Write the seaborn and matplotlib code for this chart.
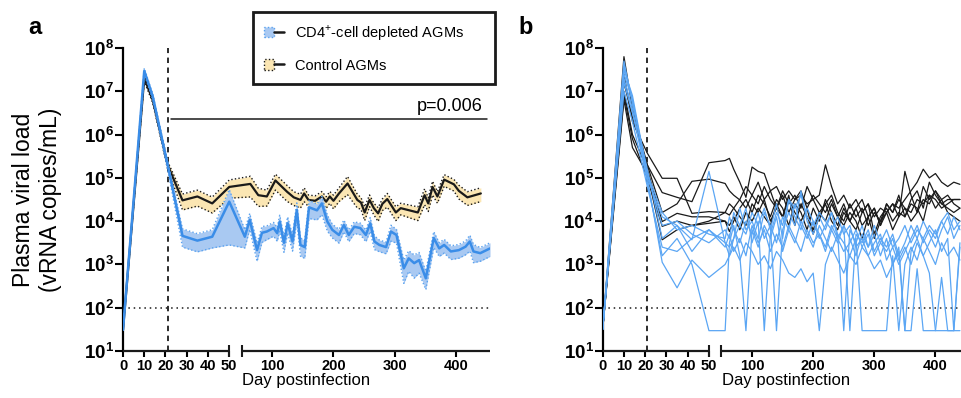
import numpy as np
import pandas as pd
import matplotlib
matplotlib.use("Agg")
import matplotlib.pyplot as plt
import seaborn as sns
from matplotlib.patches import Patch
from matplotlib.lines import Line2D
from matplotlib.legend_handler import HandlerTuple

sns.set_theme(style="ticks")
plt.rcParams["font.family"] = ["Liberation Sans", "DejaVu Sans"]
plt.rcParams["mathtext.fontset"] = "custom"
plt.rcParams["mathtext.rm"] = "Liberation Sans"
plt.rcParams["mathtext.bf"] = "Liberation Sans:bold"
for k in ["text.color", "axes.labelcolor", "xtick.color", "ytick.color", "axes.edgecolor"]:
    plt.rcParams[k] = "black"

# ---------------- data (log10 vRNA copies/mL) ----------------
# Panel a: group means with relative SEM
ctrl_days = [0, 10, 14, 21, 28, 35, 42, 50, 64, 77, 91, 105, 124, 135, 146, 152,
             159, 170, 181, 188, 194, 200, 209, 223, 239, 245, 251, 259, 266, 273,
             280, 288, 302, 310, 338, 349, 355, 362, 370, 381, 397, 405, 419, 441]
ctrl_log = [1.49, 7.30, 6.80, 5.30, 4.48, 4.57, 4.41, 4.79, 4.86, 4.60, 4.57, 4.94,
            4.68, 4.55, 4.49, 4.64, 4.49, 4.47, 4.57, 4.45, 4.57, 4.47, 4.64, 4.87,
            4.49, 4.43, 4.20, 4.49, 4.30, 4.18, 4.40, 4.51, 4.20, 4.30, 4.20, 4.60,
            4.41, 4.79, 4.57, 4.96, 4.85, 4.70, 4.55, 4.64]
ctrl_rsem = [0.05, 0.15, 0.15, 0.2, 0.4, 0.4, 0.4, 0.45, 0.5, 0.45, 0.4, 0.4,
             0.4, 0.35, 0.35, 0.35, 0.3, 0.3, 0.3, 0.3, 0.3, 0.35, 0.35, 0.45,
             0.35, 0.3, 0.35, 0.3, 0.3, 0.35, 0.3, 0.35, 0.35, 0.3, 0.35, 0.4,
             0.35, 0.35, 0.3, 0.3, 0.3, 0.35, 0.35, 0.35]

dep_days = [0, 10, 14, 21, 28, 35, 42, 50, 55, 63, 75, 83, 91, 102, 108, 112,
            119, 125, 133, 140, 146, 153, 160, 173, 181, 190, 198, 209, 217, 225,
            234, 244, 253, 260, 267, 275, 286, 294, 303, 315, 323, 332, 340, 351,
            364, 373, 381, 392, 405, 416, 423, 429, 440, 456]
dep_log = [1.49, 7.47, 6.88, 5.30, 3.66, 3.55, 3.64, 4.45, 3.64, 4.03, 3.33, 3.73,
           3.76, 3.84, 3.72, 3.99, 3.50, 3.95, 3.53, 4.26, 3.45, 3.40, 4.32, 4.25,
           4.41, 3.99, 3.80, 3.68, 3.91, 3.68, 3.87, 3.84, 3.68, 3.95, 3.53, 3.45,
           3.40, 3.76, 3.68, 2.91, 3.14, 3.03, 3.10, 2.68, 3.61, 3.37, 3.45, 3.30,
           3.33, 3.41, 3.53, 3.30, 3.26, 3.37]
dep_rsem = [0.05, 0.15, 0.15, 0.2, 0.45, 0.45, 0.45, 0.9, 0.45, 0.4, 0.45, 0.4,
            0.35, 0.35, 0.35, 0.4, 0.4, 0.4, 0.4, 0.45, 0.45, 0.45, 0.45, 0.4,
            0.45, 0.4, 0.35, 0.35, 0.3, 0.3, 0.3, 0.3, 0.3, 0.35, 0.35, 0.3,
            0.3, 0.4, 0.35, 0.55, 0.5, 0.55, 0.5, 0.45, 0.4, 0.35, 0.35, 0.35,
            0.35, 0.35, 0.4, 0.45, 0.35, 0.35]

# Panel b: individual animals
days_b = [0, 10, 14, 21, 28, 35, 42, 50, 56, 63, 70, 80, 90, 100, 110, 120, 130,
          140, 150, 160, 170, 180, 190, 200, 210, 220, 230, 240, 250, 260, 270,
          280, 290, 300, 310, 320, 330, 340, 350, 360, 370, 380, 390, 400, 410,
          420, 430, 440]
ctrl_animals = {
    "C1": [1.5, 7.8, 6.6, 5.3, 4.66, 4.55, 4.45, 5.35, 5.4, 5.45, 5.2, 4.9,
           4.55, 5.25, 5.15, 5.1, 4.7, 4.8, 4.5, 4.7, 4.5, 4.6, 4.4, 4.5,
           4.6, 5.3, 4.8, 4.4, 4.6, 4.3, 4.5, 4.2, 4.4, 4.1, 4.3, 4.2,
           4.4, 4.3, 4.5, 4.7, 4.9, 5.2, 5.0, 5.1, 4.9, 4.8, 4.9, 4.85],
    "C2": [1.5, 7.4, 6.3, 5.57, 4.99, 4.99, 4.18, 4.22, 4.2, 4.14, 4.3, 4.5,
           4.8, 4.6, 4.9, 4.5, 4.7, 4.3, 4.6, 4.2, 4.5, 4.7, 4.3, 4.6,
           4.4, 4.2, 4.5, 4.1, 4.4, 4.0, 4.3, 4.5, 4.1, 4.3, 3.9, 4.2,
           4.4, 4.1, 5.15, 4.6, 4.2, 4.8, 4.5, 4.7, 4.4, 4.3, 4.2, 4.3],
    "C3": [1.5, 7.2, 6.4, 5.3, 4.2, 4.4, 4.92, 4.97, 4.87, 4.7, 4.6, 4.49,
           4.3, 4.6, 4.4, 4.8, 4.5, 4.3, 4.7, 4.4, 4.6, 4.3, 4.8, 4.5,
           4.2, 4.4, 4.6, 4.2, 4.0, 4.4, 4.1, 4.3, 3.9, 4.2, 4.0, 4.4,
           4.2, 4.5, 4.3, 4.2, 4.5, 4.4, 4.6, 4.5, 4.3, 4.4, 4.5, 4.5],
    "C4": [1.5, 7.0, 6.0, 5.2, 3.99, 4.18, 4.1, 4.1, 4.0, 3.76, 4.0, 4.3,
           4.5, 4.2, 4.6, 4.4, 4.1, 4.5, 4.3, 3.9, 4.4, 4.2, 3.8, 4.3,
           4.0, 4.5, 4.2, 3.9, 4.3, 4.0, 3.8, 4.2, 4.4, 3.7, 4.1, 4.3,
           4.0, 4.2, 4.1, 4.4, 4.3, 4.0, 4.6, 4.3, 4.5, 4.2, 4.1, 4.0],
    "C5": [1.5, 6.9, 5.9, 5.0, 3.88, 4.0, 3.9, 4.0, 4.2, 4.4, 4.3, 4.1,
           3.9, 4.4, 4.2, 4.5, 4.0, 4.3, 4.1, 4.6, 3.9, 4.4, 4.1, 3.8,
           4.2, 4.0, 4.4, 4.1, 3.9, 4.2, 4.0, 3.6, 4.1, 4.3, 3.9, 4.4,
           4.2, 4.6, 4.1, 4.5, 4.7, 4.3, 4.9, 4.6, 4.4, 4.5, 4.5, 4.5],
    "C6": [1.5, 6.8, 5.7, 5.1, 3.57, 3.8, 3.9, 3.95, 4.0, 3.9, 4.1, 3.8,
           4.2, 4.0, 4.3, 4.1, 3.9, 4.4, 4.1, 4.5, 4.2, 4.0, 4.3, 3.7,
           4.1, 4.4, 4.0, 3.8, 4.2, 4.0, 4.3, 3.9, 4.1, 3.6, 4.0, 4.2,
           3.8, 4.1, 4.3, 4.0, 4.2, 4.5, 4.4, 4.7, 4.5, 4.6, 4.4, 4.3],
}
dep_animals = {
    "B1": [1.5, 7.6, 6.8, 5.0, 4.1, 3.9, 3.57, 5.15, 3.5, 3.4, 3.6, 3.9,
           3.7, 4.2, 3.9, 4.3, 3.8, 4.4, 3.6, 4.5, 4.3, 4.6, 4.1, 3.9,
           4.2, 4.0, 3.8, 4.1, 3.7, 3.9, 3.4, 3.6, 3.2, 3.5, 3.7, 3.1,
           3.4, 3.0, 3.3, 3.6, 3.9, 3.5, 3.8, 3.6, 4.0, 3.7, 4.1, 3.8],
    "B2": [1.5, 7.3, 6.6, 4.9, 3.2, 3.6, 3.0, 1.47, 1.47, 3.5, 3.9, 3.2,
           1.47, 3.8, 3.4, 3.9, 3.6, 4.1, 3.3, 3.8, 3.5, 4.0, 3.7, 3.4,
           3.9, 3.6, 3.3, 3.7, 3.5, 3.2, 3.6, 1.47, 1.47, 1.47, 1.47, 1.47,
           3.2, 1.47, 3.0, 3.4, 3.1, 3.6, 3.3, 3.0, 3.5, 3.2, 3.4, 3.1],
    "B3": [1.5, 7.2, 6.5, 5.0, 3.05, 2.46, 3.1, 2.7, 3.0, 3.2, 3.4, 3.1,
           3.5, 3.3, 3.0, 3.2, 2.9, 3.3, 3.1, 2.8, 2.7, 2.9, 2.6, 2.8,
           1.47, 3.0, 3.4, 3.1, 2.8, 3.2, 3.0, 3.4, 3.2, 2.9, 3.1, 2.7,
           3.0, 3.3, 1.47, 1.47, 2.9, 1.47, 1.47, 1.47, 2.7, 1.47, 1.47, 1.47],
    "B4": [1.5, 7.5, 6.9, 5.1, 4.2, 3.8, 3.9, 3.7, 3.6, 4.1, 3.8, 3.5,
           4.0, 3.7, 4.2, 3.6, 3.9, 1.47, 3.8, 4.2, 3.9, 4.7, 4.0, 3.7,
           4.1, 3.8, 4.2, 3.6, 3.9, 1.47, 3.7, 3.5, 3.8, 3.3, 3.6, 3.4,
           3.7, 3.2, 3.5, 3.9, 3.6, 4.0, 3.7, 3.4, 3.8, 4.1, 3.6, 3.9],
    "B5": [1.5, 7.7, 6.7, 5.2, 3.6, 3.9, 3.3, 3.8, 3.5, 3.2, 3.6, 4.3,
           3.8, 4.0, 3.6, 4.2, 3.9, 3.5, 4.1, 3.8, 4.4, 3.9, 3.6, 4.0,
           3.7, 3.3, 3.8, 3.5, 3.9, 3.6, 3.2, 3.7, 3.4, 3.9, 3.5, 3.3,
           3.6, 3.1, 3.4, 3.0, 3.5, 3.2, 2.8, 1.47, 1.47, 1.47, 1.47, 3.4],
    "B6": [1.5, 7.4, 6.8, 5.1, 3.9, 4.0, 3.7, 3.5, 3.8, 3.6, 4.2, 3.9,
           4.3, 3.5, 4.0, 1.47, 3.7, 4.2, 3.9, 4.5, 4.1, 3.8, 4.3, 4.0,
           3.6, 3.9, 4.2, 3.7, 1.47, 3.8, 3.5, 3.9, 3.4, 3.7, 3.2, 3.6,
           3.0, 3.4, 1.47, 3.3, 3.6, 3.2, 3.5, 3.8, 3.3, 3.6, 1.47, 3.5],
    "B7": [1.5, 7.0, 6.3, 4.8, 3.4, 3.3, 3.6, 3.8, 3.4, 3.7, 3.3, 3.6,
           3.2, 3.9, 3.5, 3.8, 3.3, 3.7, 3.4, 3.9, 3.6, 3.3, 3.8, 3.5,
           3.7, 3.4, 3.9, 3.6, 3.3, 3.5, 3.8, 3.4, 3.7, 3.2, 3.5, 3.8,
           3.4, 3.6, 3.9, 3.5, 3.8, 3.6, 3.9, 3.7, 4.0, 4.2, 3.8, 4.0],
}

xticks = [0, 10, 20, 30, 40, 50, 100, 200, 300, 400]
yticks_exp = [1, 2, 3, 4, 5, 6, 7, 8]
legend_labels = [r"CD4$^{+}$-cell depleted AGMs", "Control AGMs"]
p_text = "p=0.006"
xlabel = "Day postinfection"
ylabel = "Plasma viral load\n(vRNA copies/mL)"

# ---------------- style ----------------
BLUE = "#3a8de8"
BLUE_FILL = "#a9c9f2"
BLUE_EDGE = "#5aa2ef"
BLUE_THIN = "#5ba6f4"
YELLOW_FILL = "#fbe6b3"
DOT = (0, (1, 1.6))

# broken x axis: 0-50 stretched, 50-456 compressed
SEG1 = 2.12
GAP = 12.5
SEG2 = 0.61
BREAK = 50.0
XMAX = 456


def fwd(d):
    d = np.asarray(d, dtype=float)
    return np.where(d <= BREAK, d * SEG1, BREAK * SEG1 + GAP + (d - BREAK) * SEG2)


def inv(u):
    u = np.asarray(u, dtype=float)
    b1 = BREAK * SEG1
    return np.where(u <= b1, u / SEG1,
                    np.where(u < b1 + GAP, BREAK, BREAK + (u - b1 - GAP) / SEG2))


def setup_axis(ax):
    ax.set_xscale("function", functions=(fwd, inv))
    ax.set_yscale("log")


def finish_axis(ax):
    ax.set_xlim(0, XMAX)
    ax.set_ylim(10, 1e8)
    ax.set_xticks(xticks)
    ax.set_xticklabels([str(t) for t in xticks], fontsize=10.5, fontweight="bold")
    ax.set_yticks([10.0 ** e for e in yticks_exp])
    ax.set_yticklabels([r"$\mathbf{10^{%d}}$" % e for e in yticks_exp], fontsize=13.5)
    ax.yaxis.set_minor_locator(matplotlib.ticker.NullLocator())
    ax.xaxis.set_minor_locator(matplotlib.ticker.NullLocator())
    for s in ["top", "right", "bottom"]:
        ax.spines[s].set_visible(False)
    ax.spines["left"].set_linewidth(1.6)
    ax.tick_params(axis="x", length=4, width=1.5, pad=1.5)
    ax.tick_params(axis="y", length=5.5, width=1.5, pad=1)
    # broken bottom axis
    ax.plot([0, BREAK], [10, 10], color="k", lw=1.6, clip_on=False,
            solid_capstyle="butt", zorder=6)
    ax.plot([BREAK + 1e-6, XMAX], [10, 10], color="k", lw=1.6, clip_on=False,
            solid_capstyle="butt", zorder=6)
    ax.plot([BREAK, BREAK + 1e-6], [10, 10], ls="none", marker="|", ms=8,
            mew=1.5, color="k", clip_on=False, zorder=6)
    ax.axhline(100, color="k", lw=1.1, ls=(0, (1, 2.5)), zorder=1)
    ax.axvline(21, color="k", lw=1.3, ls=(0, (3, 2.5)), zorder=1)
    ax.set_xlabel(xlabel, fontsize=12, labelpad=0.5)
    ax.set_ylabel("")
    ax.grid(False)


fig = plt.figure(figsize=(9.61, 3.98), dpi=100)
W, H = 961, 398
axA = fig.add_axes([123 / W, (H - 351) / H, 367 / W, 303 / H])
axB = fig.add_axes([602.7 / W, (H - 351) / H, 367 / W, 303 / H])
setup_axis(axA)
setup_axis(axB)

# ---------------- panel a ----------------
cd = np.array(ctrl_days, dtype=float)
cm = 10 ** np.array(ctrl_log)
cr = np.array(ctrl_rsem)
dd = np.array(dep_days, dtype=float)
dm = 10 ** np.array(dep_log)
dr = np.array(dep_rsem)

axA.fill_between(cd, cm * (1 - cr), cm * (1 + cr), color=YELLOW_FILL, lw=0, zorder=2)
axA.plot(cd, cm * (1 - cr), color="k", lw=1.0, ls=DOT, zorder=3)
axA.plot(cd, cm * (1 + cr), color="k", lw=1.0, ls=DOT, zorder=3)
sns.lineplot(x=cd, y=cm, color="k", lw=1.6, errorbar=None, ax=axA, zorder=4)

axA.fill_between(dd, dm * (1 - dr), dm * (1 + dr), color=BLUE_FILL, lw=0, zorder=5)
axA.plot(dd, dm * (1 - dr), color=BLUE_EDGE, lw=1.0, ls=DOT, zorder=5)
axA.plot(dd, dm * (1 + dr), color=BLUE_EDGE, lw=1.0, ls=DOT, zorder=5)
sns.lineplot(x=dd, y=dm, color=BLUE, lw=1.8, errorbar=None, ax=axA, zorder=6)

axA.plot([22.6, 451], [10 ** 6.36, 10 ** 6.36], color="k", lw=1.1)
axA.text(444, 10 ** 6.55, p_text, ha="right", va="baseline", fontsize=13)
finish_axis(axA)

# ---------------- panel b ----------------
rows = []
for name, vals in ctrl_animals.items():
    for d, v in zip(days_b, vals):
        rows.append(("Control", name, d, 10 ** v))
for name, vals in dep_animals.items():
    for d, v in zip(days_b, vals):
        rows.append(("Depleted", name, d, 10 ** v))
df = pd.DataFrame(rows, columns=["group", "animal", "day", "vl"])
sns.lineplot(data=df, x="day", y="vl", hue="group", units="animal",
             estimator=None, hue_order=["Control", "Depleted"],
             palette={"Control": "k", "Depleted": BLUE_THIN},
             lw=0.9, legend=False, ax=axB, zorder=3)
finish_axis(axB)

# ---------------- legend ----------------
h1 = (Patch(facecolor=BLUE_FILL, edgecolor=BLUE_EDGE, linestyle=DOT, lw=1.0),
      Line2D([], [], color="k", lw=1.8))
h2 = (Patch(facecolor=YELLOW_FILL, edgecolor="k", linestyle=DOT, lw=1.0),
      Line2D([], [], color="k", lw=1.8))
leg = fig.legend([h1, h2], legend_labels,
                 handler_map={tuple: HandlerTuple(ndivide=None, pad=0)},
                 loc="upper left", bbox_to_anchor=(253 / W, 1 - 12 / H, 242 / W, 0),
                 mode="expand", fontsize=10.5, frameon=True, fancybox=False,
                 framealpha=1, edgecolor="k", borderpad=0.75, labelspacing=1.1,
                 handlelength=1.35, handleheight=0.75, handletextpad=0.75,
                 borderaxespad=0)
leg.get_frame().set_linewidth(2)

# ---------------- texts ----------------
fig.text(35 / W, 1 - 27 / H, "a", fontsize=17, fontweight="bold", ha="center", va="center")
fig.text(526 / W, 1 - 27 / H, "b", fontsize=17, fontweight="bold", ha="center", va="center")
fig.text(37 / W, 1 - 200 / H, ylabel, rotation=90, ha="center", va="center",
         fontsize=16.5, linespacing=1.25, multialignment="center")

fig.savefig("out.png", dpi=100)
